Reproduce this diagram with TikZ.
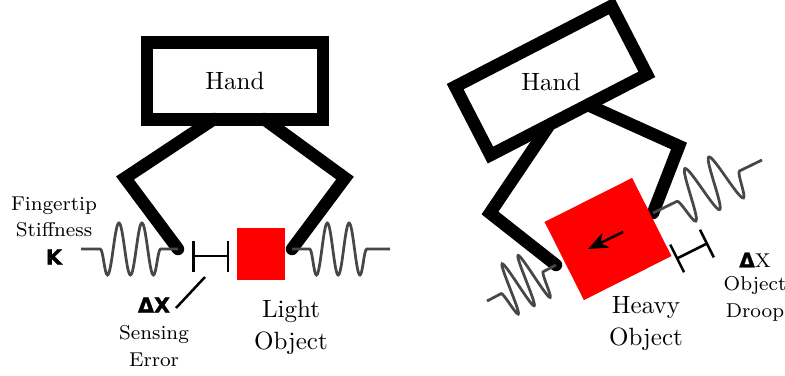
\documentclass[tikz,border=0pt]{standalone}
\usepackage{fontspec}
\usetikzlibrary{arrows.meta,decorations.pathmorphing}
\newfontfamily\heavyfont{DejaVu Sans}[BoldFeatures={FakeBold=1.5}]
\begin{document}
\begin{tikzpicture}[
    x=0.4pt, y=-0.4pt,
    handbox/.style={draw, line width=5pt, inner sep=0pt, outer sep=0pt, minimum width=70.4pt, minimum height=30.8pt},
    finger/.style={line width=5pt, line cap=round, line join=miter},
    object/.style={fill=red, inner sep=0pt, outer sep=0pt},
    spring/.style n args={3}{draw=black!72, line width=1.1pt, decorate,
        decoration={snake, amplitude=10.4pt, segment length=#1, pre=lineto, pre length=#2, post=lineto, post length=#3}},
    gap/.style={line width=1pt, {Bar[width=12.4pt,line width=1pt]}-{Bar[width=12.4pt,line width=1pt]}},
    pointer/.style={line width=1pt},
    drift/.style={line width=1pt, -{Stealth[length=8pt,width=6.5pt,inset=2.5pt]}},
    big/.style={align=center, font=\fontsize{10}{12.8}\selectfont},
    small/.style={align=center, font=\fontsize{8}{10.6}\selectfont},
    heavy/.style={font=\heavyfont\bfseries\fontsize{8.3}{10}\selectfont}
]
    \useasboundingbox (0,0) rectangle (785,375);

    % Gripper 1: mao reta, objeto leve
    \coordinate (la0) at (214,119);
    \coordinate (la1) at (125,178);
    \coordinate (la2) at (178,249);
    \coordinate (ra0) at (264,119);
    \coordinate (ra1) at (345,178);
    \coordinate (ra2) at (292,249);
    \draw[finger] (la0) -- (la1) -- (la2);
    \draw[finger] (ra0) -- (ra1) -- (ra2);
    \node[handbox] (hand1) at (235,81) {Hand};
    \node[object, minimum width=19.2pt, minimum height=20.8pt] (light) at (261,254) {};

    % Molas
    \coordinate (ls1) at (81,249);
    \coordinate (rs1) at (390,249);
    \draw[spring={9.2pt}{7.7pt}{6.6pt}, decoration={mirror}] (ls1) -- (la2);
    \draw[spring={8.7pt}{9.3pt}{6.7pt}] (rs1) -- (ra2);

    % Erro de sensoriamento
    \coordinate (g1) at (192,256);
    \coordinate (g2) at (229,256);
    \coordinate (p1) at (205,277);
    \coordinate (p2) at (176,308);
    \draw[gap] (g1) -- (g2);
    \draw[pointer] (p1) -- (p2);

    % Gripper 2: mao inclinada, objeto pesado
    \coordinate (lb0) at (548,127);
    \coordinate (lb1) at (490,213);
    \coordinate (lb2) at (556,265);
    \coordinate (rb0) at (588,105);
    \coordinate (rb1) at (679,146);
    \coordinate (rb2) at (653,213);
    \draw[finger] (lb0) -- (lb1) -- (lb2);
    \draw[finger] (rb0) -- (rb1) -- (rb2);
    \node[handbox, rotate=27.3] (hand2) at (551,80.5) {};
    \node (hand2txt) at (551,82) {Hand};
    \node[object, minimum width=39.2pt, minimum height=35pt, rotate=26.7] (heavy) at (608,239) {};

    \coordinate (d1) at (623,232);
    \coordinate (d2) at (588,249);
    \draw[drift] (d1) -- (d2);

    \coordinate (ls2) at (487,301);
    \coordinate (rs2) at (762,160);
    \draw[spring={7.2pt}{6.4pt}{5.5pt}, decoration={mirror}] (ls2) -- (lb2);
    \draw[spring={10.6pt}{10pt}{10.2pt}] (rs2) -- (rb2);

    \coordinate (g3) at (676,259);
    \coordinate (g4) at (708,243);
    \draw[gap] (g3) -- (g4);

    % Textos
    \node[small] (stiff) at (54,217) {Fingertip\\Stiffness};
    \node[heavy] (kay) at (54,257) {K};
    \node[heavy] (dx1) at (154,305) {ΔX};
    \node[small] (sense) at (154,346) {Sensing\\Error};
    \node[big] (lightlab) at (291,327) {Light\\Object};
    \node[big] (heavylab) at (646,324) {Heavy\\Object};
    \node[small] (dx2) at (755,260) {{\heavyfont\bfseries Δ}X};
    \node[small] (droop) at (755,299) {Object\\Droop};
\end{tikzpicture}
\end{document}
